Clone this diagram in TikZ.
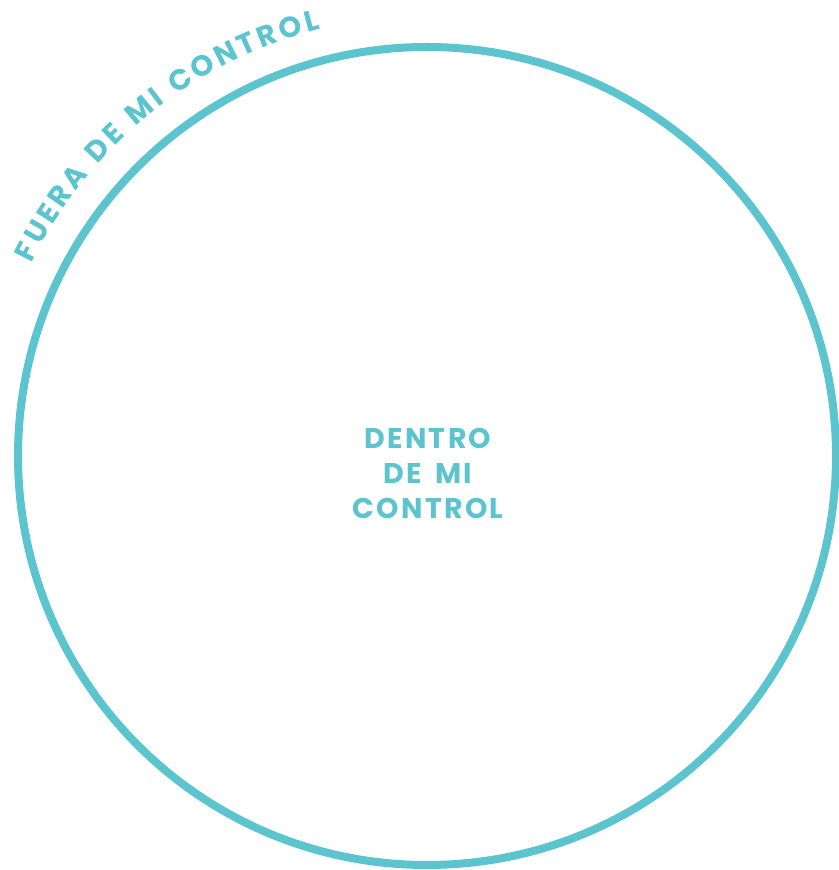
\documentclass[tikz,border=0pt]{standalone}
\usepackage{fontspec}
\setmainfont{Poppins}
\newfontfamily\ctrlfont[LetterSpace=8,WordSpace=1.6]{Poppins}
\newfontfamily\arcfont[WordSpace=1.1]{Poppins}
\usetikzlibrary{calc}
\usetikzlibrary{decorations.text}
\definecolor{ctrlteal}{RGB}{91,196,207}

\begin{document}
\begin{tikzpicture}[x=1pt,y=1pt]
  \useasboundingbox (0,0) rectangle (838,870);
  \coordinate (c) at (427,414);

  \draw[ctrlteal,line width=8pt] (c) circle (409);%circle of control

  \node[text=ctrlteal,align=center,inner sep=0pt,
    font=\ctrlfont\bfseries\fontsize{28.5}{35}\selectfont] (inside) at (428,397)
    {DENTRO\\DE MI\\CONTROL};

  % text running round the outside
  \path[decorate,decoration={text along path,text align={fit to path},
      text={|\arcfont\bfseries\fontsize{29}{32}\selectfont\color{ctrlteal}|FUERA DE MI CONTROL}}]
    ($(c)+(154:440)$) arc[start angle=154,end angle=104,radius=440];
\end{tikzpicture}
\end{document}
